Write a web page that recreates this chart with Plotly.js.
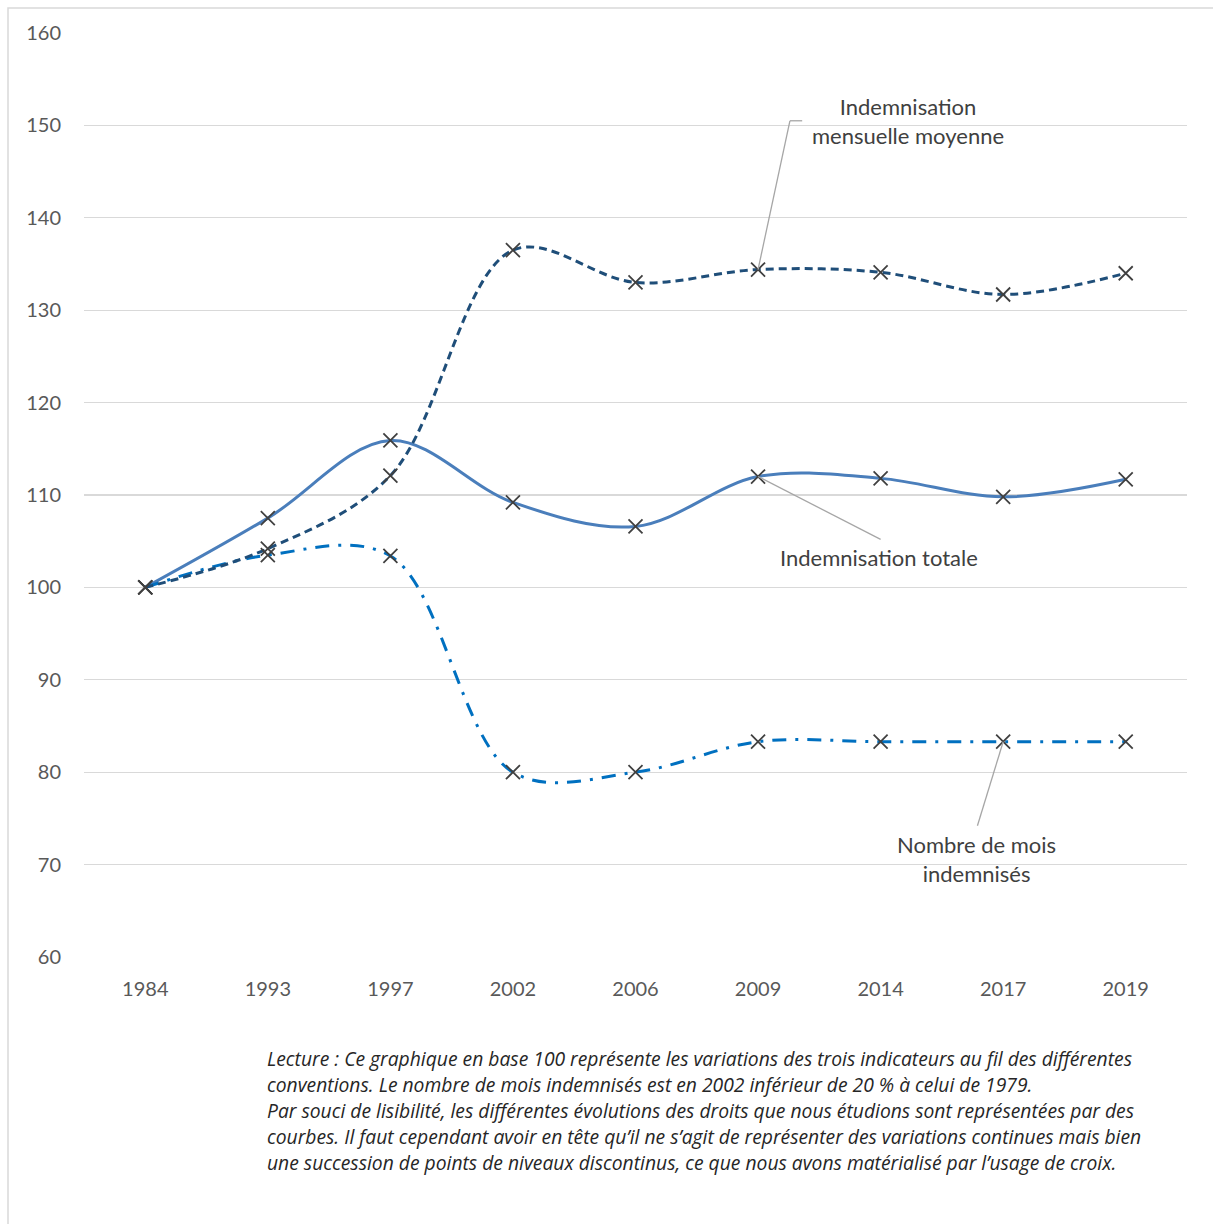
<!DOCTYPE html>
<html>
<head>
<meta charset="utf-8">
<script src="https://cdn.plot.ly/plotly-3.0.1.min.js"></script>
<style>
html,body{margin:0;padding:0;background:#fff;}
#chart{width:1213px;height:1224px;}
</style>
</head>
<body>
<div id="chart"></div>
<script>
const years = ["1984","1993","1997","2002","2006","2009","2014","2017","2019"];
const indemMensuelle = [100, 104.2, 112.1, 136.5, 133.0, 134.4, 134.1, 131.7, 134.0];
const indemTotale = [100, 107.5, 115.9, 109.2, 106.6, 112.0, 111.8, 109.8, 111.7];
const nombreMois = [100, 103.5, 103.4, 80.0, 80.0, 83.3, 83.3, 83.3, 83.3];
const yTicks = [60, 70, 80, 90, 100, 110, 120, 130, 140, 150, 160];

const captionLines = [
  "Lecture : Ce graphique en base 100 représente les variations des trois indicateurs au fil des différentes",
  "conventions. Le nombre de mois indemnisés est en 2002 inférieur de 20 % à celui de 1979.",
  "Par souci de lisibilité, les différentes évolutions des droits que nous étudions sont représentées par des",
  "courbes. Il faut cependant avoir en tête qu’il ne s’agit de représenter des variations continues mais bien",
  "une succession de points de niveaux discontinus, ce que nous avons matérialisé par l’usage de croix."
];

const FONT = "Lato, 'Open Sans', sans-serif";
const CAPFONT = "'Open Sans', Lato, sans-serif";
const W = 1213, H = 1224;

function lineTrace(y, color, dash) {
  return {x: years, y: y, type: 'scatter', mode: 'lines',
    line: {color: color, width: 3, shape: 'spline', smoothing: 1, dash: dash},
    hoverinfo: 'skip', showlegend: false};
}
function markerTrace(y) {
  return {x: years, y: y, type: 'scatter', mode: 'markers',
    marker: {symbol: 'x-thin-open', size: 14, line: {color: '#404040', width: 1.8}, color: '#404040'},
    showlegend: false};
}

const traces = [
  lineTrace(indemTotale, '#4a7ebb', 'solid'),
  lineTrace(nombreMois, '#0070c0', '14px,9px,3px,9px'),
  lineTrace(indemMensuelle, '#1f4e79', '8px,5px'),
  markerTrace(indemTotale),
  markerTrace(nombreMois),
  markerTrace(indemMensuelle)
];

const gray = '#a6a6a6';
const shapes = [
  {type: 'rect', xref: 'paper', yref: 'paper', x0: (8-84)/1103, x1: (1240-84)/1103,
   y0: (957-1240)/924, y1: (957-8)/924, line: {color: '#d9d9d9', width: 1.5}, layer: 'below'},
  {type: 'line', xref: 'x', yref: 'y', x0: 5, y0: indemMensuelle[5], x1: 5.26, y1: 150.5, line: {color: gray, width: 1.3}},
  {type: 'line', xref: 'x', yref: 'y', x0: 5.26, y0: 150.5, x1: 5.36, y1: 150.5, line: {color: gray, width: 1.3}},
  {type: 'line', xref: 'x', yref: 'y', x0: 5, y0: indemTotale[5], x1: 6.0, y1: 105.2, line: {color: gray, width: 1.3}},
  {type: 'line', xref: 'x', yref: 'y', x0: 7, y0: nombreMois[7], x1: 6.79, y1: 74.2, line: {color: gray, width: 1.3}}
];

const lblFont = {family: FONT, size: 22, color: '#404040'};
const annotations = [
  {xref: 'x', yref: 'y', x: 6.22, y: 150.5, text: 'Indemnisation<br>mensuelle moyenne', showarrow: false,
   font: lblFont, align: 'center', xanchor: 'center', yanchor: 'middle'},
  {xref: 'x', yref: 'y', x: 5.99, y: 103.2, text: 'Indemnisation totale', showarrow: false,
   font: lblFont, xanchor: 'center', yanchor: 'middle'},
  {xref: 'x', yref: 'y', x: 6.78, y: 70.65, text: 'Nombre de mois<br>indemnisés', showarrow: false,
   font: lblFont, align: 'center', xanchor: 'center', yanchor: 'middle'}
];
const capY0 = 1058, capStep = 26;
captionLines.forEach((t, i) => {
  annotations.push({xref: 'paper', yref: 'paper', x: (265-84)/1103, y: (957-(capY0 + i*capStep))/924,
    text: '<i>' + t + '</i>', showarrow: false, xanchor: 'left', yanchor: 'middle',
    font: {family: CAPFONT, size: 19.3, color: '#262626'}});
});

const layout = {
  width: W, height: H,
  margin: {l: 84, r: 26, t: 33, b: 267},
  paper_bgcolor: '#ffffff', plot_bgcolor: '#ffffff',
  showlegend: false,
  xaxis: {type: 'category', range: [-0.5, 8.5], showgrid: false, zeroline: false, showline: false,
    ticks: '', tickfont: {family: FONT, size: 20, color: '#595959'}, ticklabelstandoff: 18, fixedrange: true},
  yaxis: {range: [60, 160], tickvals: yTicks, showgrid: true, gridcolor: '#d9d9d9', gridwidth: 1.3,
    zeroline: false, showline: false, ticks: '', tickfont: {family: FONT, size: 20, color: '#595959'},
    ticklabelstandoff: 22, fixedrange: true},
  shapes: shapes,
  annotations: annotations
};

Plotly.newPlot('chart', traces, layout, {displayModeBar: false, staticPlot: true});
</script>
</body>
</html>
